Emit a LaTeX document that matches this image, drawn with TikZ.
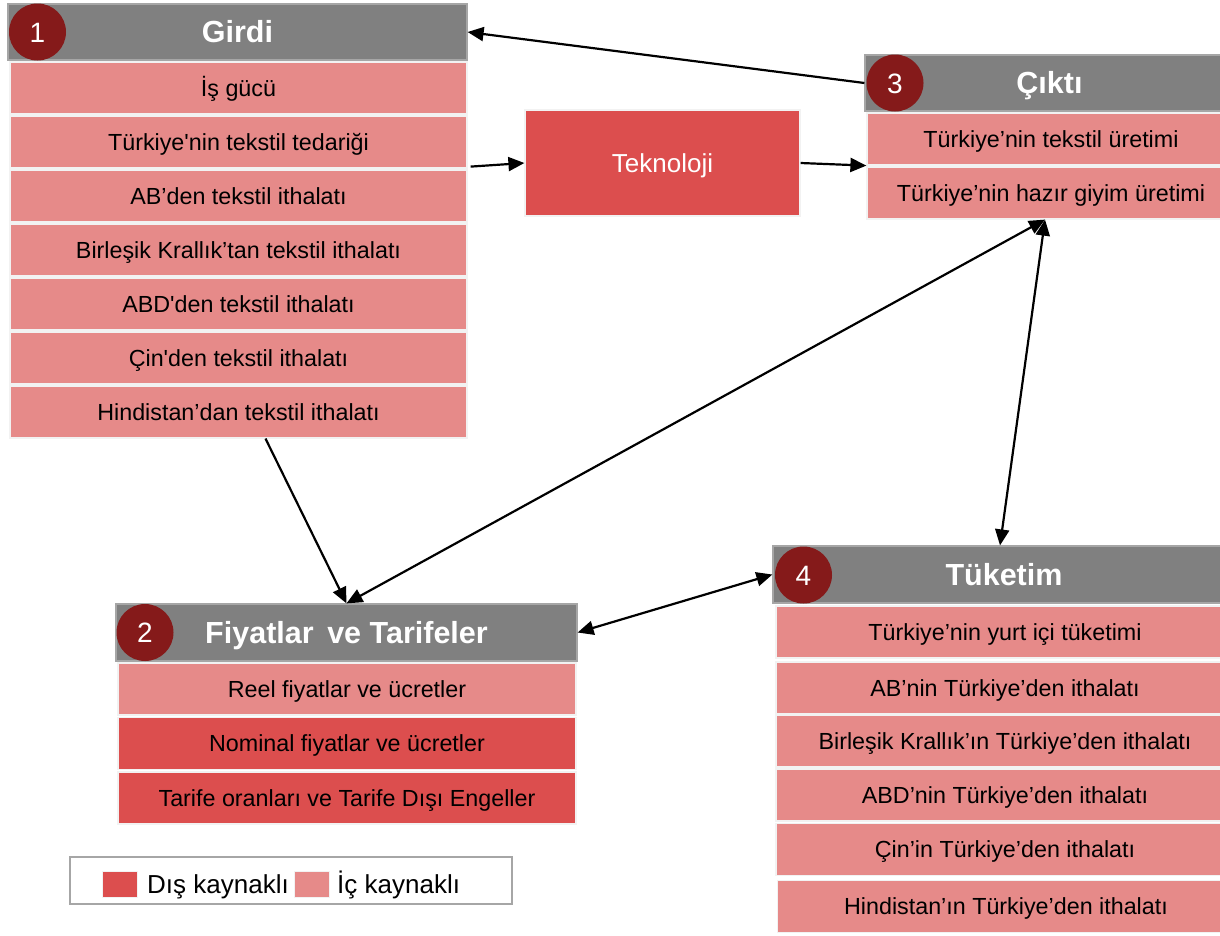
\documentclass[tikz,border=0pt]{standalone}
\usepackage{fontspec}
\setmainfont{Liberation Sans}[Ligatures=TeXOff]
\usetikzlibrary{arrows.meta}
\definecolor{hdr}{HTML}{808080}
\definecolor{hdrline}{HTML}{A6A6A6}
\definecolor{lightred}{HTML}{E68A89}
\definecolor{darkred}{HTML}{DC4E4E}
\definecolor{circ}{HTML}{851A1A}
\definecolor{rowline}{HTML}{F2F2F2}
\begin{document}
\begin{tikzpicture}[x=1pt,y=-1pt,
  hdrbox/.style={fill=hdr, draw=hdrline, line width=1.2pt, inner sep=0pt, text=white,
    font=\fontsize{30.5}{32}\selectfont\bfseries, minimum height=56pt,
    text height=21.8pt, text depth=0pt},
  rowbox/.style={draw=rowline, line width=1.2pt, inner sep=0pt, text=black,
    font=\fontsize{23.3}{25}\selectfont, minimum height=52pt,
    text height=16.7pt, text depth=0pt},
  inrow/.style={rowbox, fill=lightred},
  exrow/.style={rowbox, fill=darkred},
  numc/.style={circle, fill=circ, minimum size=57pt, inner sep=0pt, text=white,
    font=\fontsize{28}{30}\selectfont, text height=20pt, text depth=0pt},
  link/.style={line width=2.2pt, -{Triangle[length=16pt,width=14pt]}},
  dlink/.style={line width=2.2pt, {Triangle[length=16pt,width=14pt]}-{Triangle[length=16pt,width=14pt]}},
  legtext/.style={anchor=west, inner sep=0pt, font=\fontsize{26}{28}\selectfont,
    text height=18.6pt, text depth=0pt}
]
\useasboundingbox (0,0) rectangle (1220,935);
\clip (0,0) rectangle (1220,935);

% ---- 1 Girdi ----
\node[hdrbox, minimum width=459pt] (gH) at (237.5,32) {Girdi};
\node[inrow, minimum width=457pt] (g1) at (238.5,88) {İş gücü};
\node[inrow, minimum width=457pt] (g2) at (238.5,142) {Türkiye'nin tekstil tedariği};
\node[inrow, minimum width=457pt] (g3) at (238.5,196) {AB’den tekstil ithalatı};
\node[inrow, minimum width=457pt] (g4) at (238.5,250) {Birleşik Krallık’tan tekstil ithalatı};
\node[inrow, minimum width=457pt] (g5) at (238.5,304) {ABD'den tekstil ithalatı};
\node[inrow, minimum width=457pt] (g6) at (238.5,358) {Çin'den tekstil ithalatı};
\node[inrow, minimum width=457pt] (g7) at (238.5,412) {Hindistan’dan tekstil ithalatı};
\node[numc] (n1) at (37.5,32) {1};

% ---- Teknoloji ----
\node[rowbox, fill=darkred, text=white, minimum width=275pt, minimum height=106pt,
  font=\fontsize{26}{28}\selectfont, text height=18.6pt] (tek) at (662.5,163) {Teknoloji};

% ---- 3 Cikti ----
\node[hdrbox, minimum width=369pt] (cH) at (1049.5,83) {Çıktı};
\node[inrow, minimum width=368pt] (c1) at (1051,139) {Türkiye’nin tekstil üretimi};
\node[inrow, minimum width=368pt] (c2) at (1051,193) {Türkiye’nin hazır giyim üretimi};
\node[numc] (n3) at (895,83) {3};

% ---- 2 Fiyatlar ----
\node[hdrbox, minimum width=461pt, minimum height=57pt] (fH) at (346.5,632.5) {Fiyatlar\, ve Tarifeler};
\node[inrow, minimum width=458pt] (f1) at (347,689) {Reel fiyatlar ve ücretler};
\node[exrow, minimum width=458pt] (f2) at (347,743.5) {Nominal fiyatlar ve ücretler};
\node[exrow, minimum width=458pt] (f3) at (347,798) {Tarife oranları ve Tarife Dışı Engeller};
\node[numc] (n2) at (145,632.5) {2};

% ---- 4 Tuketim ----
\node[hdrbox, minimum width=462pt, minimum height=57pt] (tH) at (1004,574.5) {Tüketim};
\node[inrow, minimum width=458pt] (t1) at (1005,632) {Türkiye’nin yurt içi tüketimi};
\node[inrow, minimum width=458pt] (t2) at (1005,688) {AB’nin Türkiye’den ithalatı};
\node[inrow, minimum width=458pt] (t3) at (1005,741) {Birleşik Krallık’ın Türkiye’den ithalatı};
\node[inrow, minimum width=458pt] (t4) at (1005,795) {ABD’nin Türkiye’den ithalatı};
\node[inrow, minimum width=458pt] (t5) at (1005,849.5) {Çin’in Türkiye’den ithalatı};
\node[inrow, minimum width=457pt] (t6) at (1006,906.5) {Hindistan’ın Türkiye’den ithalatı};
\node[numc] (n4) at (803.5,575) {4};

% ---- Legend ----
\node[draw=hdrline, line width=1.5pt, minimum width=442pt, minimum height=47pt, inner sep=0pt] (leg) at (291,880.5) {};
\node[fill=darkred, draw=rowline, line width=1pt, minimum width=35pt, minimum height=26pt, inner sep=0pt] (sw1) at (120,884.5) {};
\node[legtext] (lt1) at (147,884.5) {Dış kaynaklı};
\node[fill=lightred, draw=rowline, line width=1pt, minimum width=35pt, minimum height=26pt, inner sep=0pt] (sw2) at (312,884.5) {};
\node[legtext] (lt2) at (337,884.5) {İç kaynaklı};

% ---- Connectors ----
\draw[link] (cH.west) -- (gH.east);
\draw[link] ([xshift=3pt,yshift=2pt]g2.south east) -- (tek.west);
\draw[link] (tek.east) -- (c1.south west);
\draw[link] ([xshift=27pt]g7.south) -- (fH.north);
\draw[dlink] (fH.north) -- ([xshift=-6pt]c2.south);
\draw[dlink] ([xshift=-6pt]c2.south) -- ([xshift=-4pt]tH.north);
\draw[dlink] (fH.east) -- (tH.west);
\end{tikzpicture}
\end{document}
